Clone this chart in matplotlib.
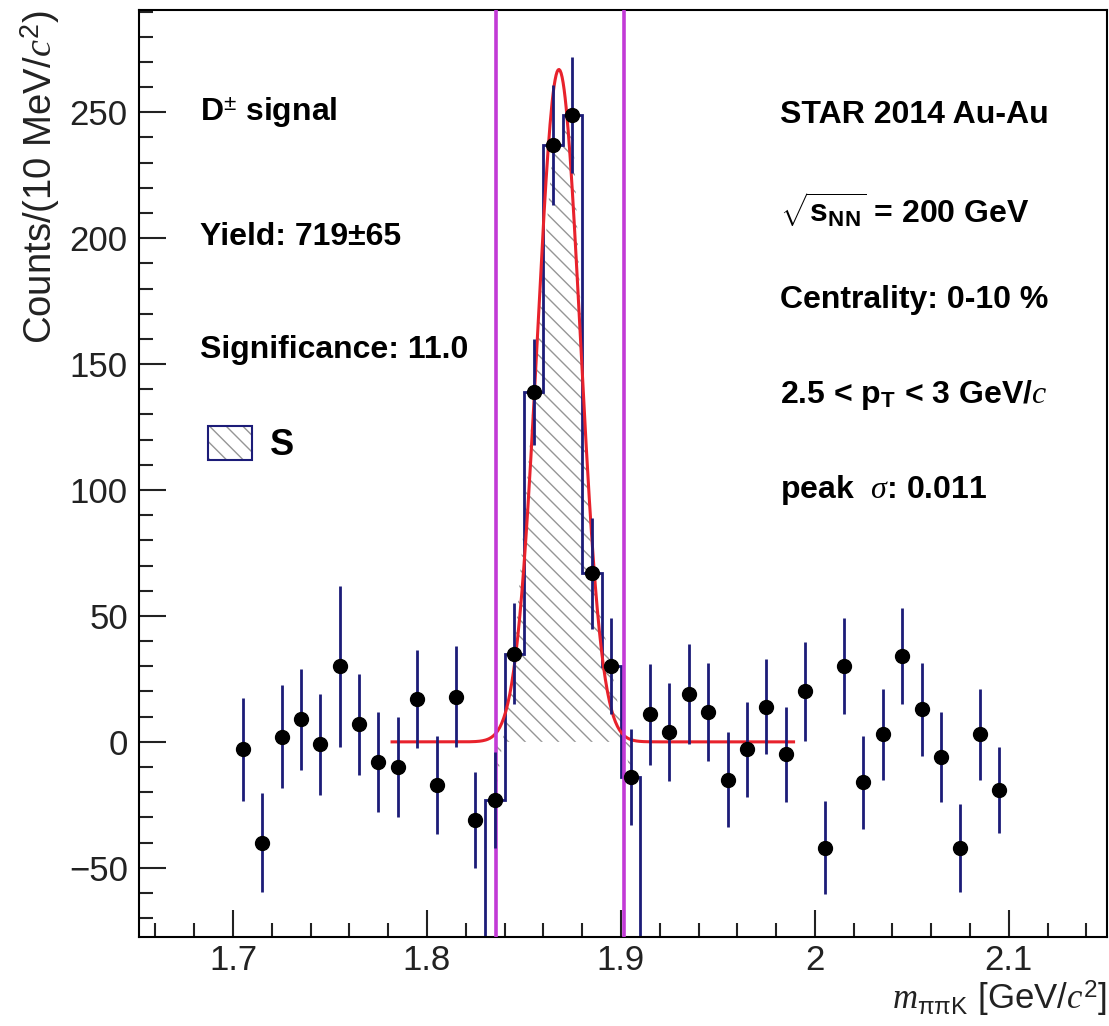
import matplotlib
matplotlib.use("Agg")
import matplotlib.pyplot as plt
import numpy as np
from matplotlib.patches import Patch
from matplotlib.legend_handler import HandlerTuple
from matplotlib.ticker import MultipleLocator, FixedLocator

plt.rcParams['font.family'] = ['Liberation Sans', 'DejaVu Sans']
plt.rcParams['mathtext.fontset'] = 'custom'
plt.rcParams['mathtext.rm'] = 'Liberation Sans'
plt.rcParams['mathtext.sf'] = 'Liberation Sans'
plt.rcParams['mathtext.it'] = 'Liberation Serif:italic'
plt.rcParams['mathtext.bf'] = 'Liberation Sans:bold'
plt.rcParams['hatch.linewidth'] = 1.0

# bin centres (10 MeV bins) and background-subtracted counts
mass = [1.705, 1.715, 1.725, 1.735, 1.745, 1.755, 1.765, 1.775, 1.785, 1.795,
        1.805, 1.815, 1.825, 1.835, 1.845, 1.855, 1.865, 1.875, 1.885, 1.895,
        1.905, 1.915, 1.925, 1.935, 1.945, 1.955, 1.965, 1.975, 1.985, 1.995,
        2.005, 2.015, 2.025, 2.035, 2.045, 2.055, 2.065, 2.075, 2.085, 2.095]
counts = [-3, -40, 2, 9, -1, 30, 7, -8, -10, 17,
          -17, 18, -31, -23, 35, 139, 237, 249, 67, 30,
          -14, 11, 4, 19, 12, -15, -3, 14, -5, 20,
          -42, 30, -16, 3, 34, 13, -6, -42, 3, -19]
errors = [20.5, 19.5, 20.5, 20, 20, 32, 20, 20, 20, 19.5,
          19.5, 20, 19, 19, 20, 21, 24, 23, 22, 19,
          19, 20, 19.5, 20, 19.5, 19, 19, 19, 19, 19.5,
          18.5, 19, 18.5, 18, 19, 18.5, 18, 17.5, 18, 17]

# signal histogram (bins 1.83 - 1.91)
sig_edges = [1.83, 1.84, 1.85, 1.86, 1.87, 1.88, 1.89, 1.90, 1.91]
sig_vals = [-23, 35, 139, 237, 249, 67, 30, -14]
sig_centres = [1.835, 1.845, 1.855, 1.865, 1.875, 1.885, 1.895, 1.905]

# gaussian fit parameters and signal window
fit_mean = 1.868
fit_sigma = 0.011
fit_amp = 267
fit_range = (1.782, 1.989)
window = (1.8355, 1.9015)

navy = '#1c1c78'
hatch_grey = '#959595'
ylo, yhi = -77.5, 290.5

fig = plt.figure(figsize=(11.09, 10.26), dpi=100)
ax = fig.add_axes([0.1253, 0.0867, 0.8727, 0.9033])

ax.fill_between(sig_centres, sig_vals, 0, facecolor='none', edgecolor=hatch_grey,
                hatch='\\\\', linewidth=0, zorder=1)
ax.stairs(sig_vals, sig_edges, baseline=ylo, color=navy, linewidth=2, zorder=2)

xf = np.linspace(fit_range[0], fit_range[1], 400)
yf = fit_amp * np.exp(-0.5 * ((xf - fit_mean) / fit_sigma) ** 2)
ax.plot(xf, yf, color='#e8222c', linewidth=2.2, zorder=3)

for w in window:
    ax.axvline(w, color='#c23ad6', linewidth=2.6, zorder=4)

ax.errorbar(mass, counts, yerr=errors, fmt='o', color='black', ecolor=navy,
            elinewidth=2, markersize=10, capsize=0, zorder=5)

ax.set_xlim(1.6515, 2.1505)
ax.set_ylim(ylo, yhi)
ax.xaxis.set_major_locator(FixedLocator([1.7, 1.8, 1.9, 2.0, 2.1]))
ax.set_xticklabels(['1.7', '1.8', '1.9', '2', '2.1'])
ax.xaxis.set_minor_locator(MultipleLocator(0.02))
ax.yaxis.set_major_locator(MultipleLocator(50))
ax.yaxis.set_minor_locator(MultipleLocator(10))
ax.tick_params(which='both', direction='in', top=False, right=False,
               labelsize=25, width=1.5, pad=8, colors='#222222')
ax.tick_params(axis='x', pad=5)
ax.tick_params(which='major', length=19.5)
ax.tick_params(which='minor', length=10)
for s in ax.spines.values():
    s.set_linewidth(1.5)

fig.text(0.036, 0.99, 'Counts/(10 MeV/$c^{2}$)', rotation=90, ha='center',
         va='top', fontsize=27.5, color='#222222')
fig.text(0.998, 0.026, r'$m_{\mathrm{\pi\pi K}}$ [GeV/$c^{2}$]', ha='right',
         va='center', fontsize=25, color='#222222')

tk = dict(transform=ax.transAxes, fontsize=23, fontweight='bold', va='center')
ax.text(0.063, 0.89, r'D$^{\pm}$ signal', **tk)
ax.text(0.063, 0.755, 'Yield: 719±65', **tk)
ax.text(0.063, 0.633, 'Significance: 11.0', **tk)
ax.text(0.662, 0.887, 'STAR 2014 Au-Au', **tk)
ax.text(0.662, 0.784, r'$\sqrt{\mathbf{s}_{\mathbf{NN}}}$ = 200 GeV', **tk)
ax.text(0.662, 0.687, 'Centrality: 0-10 %', **tk)
ax.text(0.662, 0.585, r'2.5 < $\mathbf{p}_{\mathbf{T}}$ < 3 GeV/$c$', **tk)
ax.text(0.662, 0.482, r'peak  $\sigma$: 0.011', **tk)

h_hatch = Patch(facecolor='white', edgecolor=hatch_grey, hatch='\\\\', linewidth=0)
h_edge = Patch(facecolor='none', edgecolor=navy, linewidth=1.5)
ax.legend([(h_hatch, h_edge)], ['S'], handler_map={tuple: HandlerTuple(ndivide=1, pad=0)},
          loc='center left', bbox_to_anchor=(0.071, 0.531), frameon=False,
          prop={'size': 26, 'weight': 'bold'}, handlelength=1.22, handleheight=1.05,
          handletextpad=0.5, borderpad=0, borderaxespad=0)

fig.savefig('out.png', dpi=100)
